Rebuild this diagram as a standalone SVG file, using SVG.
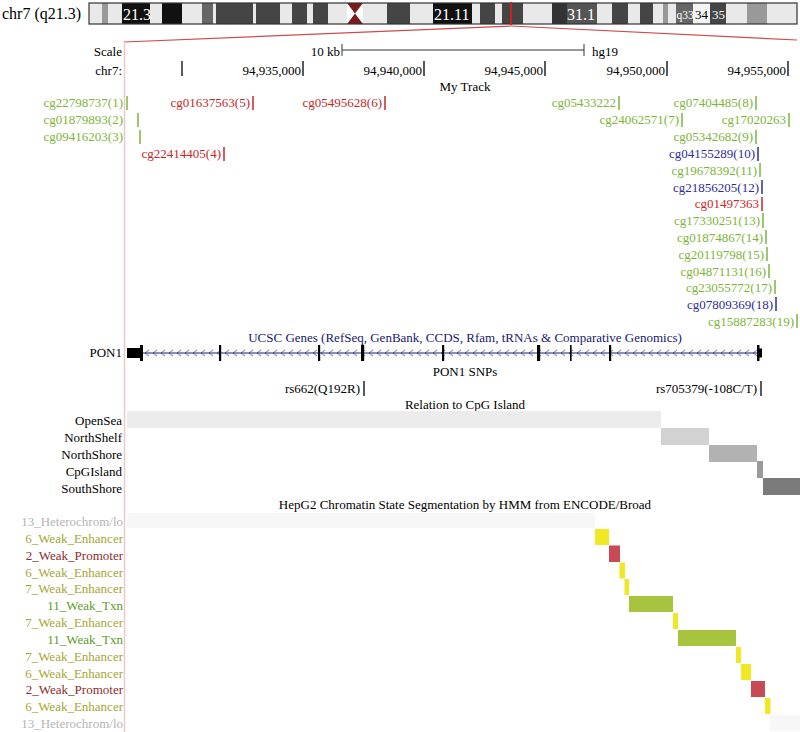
<svg xmlns="http://www.w3.org/2000/svg" width="800" height="732" viewBox="0 0 800 732">
<style>
text{font-family:"Liberation Serif","Times New Roman",serif;font-size:13px;fill:#000}
.e{text-anchor:end}
.m{text-anchor:middle}
.g{fill:#7db53a}
.r{fill:#c62828}
.b{fill:#2e2e96}
.tg{stroke:#7db53a;stroke-width:1.5}
.tr{stroke:#c62828;stroke-width:1.5}
.tb{stroke:#2e2e96;stroke-width:1.5}
.bl{fill:#e9e9e9}
.dk{fill:#454545}
.band{font-size:16px;fill:#fff}
.he{fill:#b4b4b4}
.we{fill:#a6a633}
.wp{fill:#8c2c2c}
.wt{fill:#5f9a2c}
.ye{fill:#f0e822}
.rd{fill:#c74a54}
.gn{fill:#a8c43e}
</style>
<defs>
<pattern id="chev" x="143" y="349" width="8" height="8" patternUnits="userSpaceOnUse">
<path d="M6,1 L2,4 L6,7" fill="none" stroke="#7070c4" stroke-width="1"/>
</pattern>
</defs>
<rect width="800" height="732" fill="#fff"/>

<g id="ideogram">
<text x="2" y="19" style="font-size:16px">chr7 (q21.3)</text>
<rect x="89" y="3" width="708" height="21" class="bl"/>
<rect x="102" y="3" width="6" height="21" fill="#999"/>
<rect x="122" y="3" width="28" height="21" fill="#111"/>
<rect x="162" y="3" width="20" height="21" fill="#111"/>
<rect x="202" y="3" width="11" height="21" fill="#666"/>
<rect x="216" y="3" width="37" height="21" class="dk"/>
<rect x="256" y="3" width="24" height="21" class="dk"/>
<rect x="292" y="3" width="15" height="21" class="dk"/>
<rect x="313" y="3" width="15" height="21" class="dk"/>
<rect x="347" y="3" width="16" height="21" fill="#fff"/>
<polygon points="347,3 363,3 355,13.5 363,24 347,24 355,13.5" fill="#7a1c1c"/>
<rect x="387" y="3" width="23" height="21" class="dk"/>
<rect x="433" y="3" width="39" height="21" fill="#111"/>
<rect x="480" y="3" width="15" height="21" class="dk"/>
<rect x="502" y="3" width="21" height="21" class="dk"/>
<rect x="552" y="3" width="15" height="21" fill="#333"/>
<rect x="567" y="3" width="30" height="21" fill="#555"/>
<rect x="612" y="3" width="16" height="21" class="dk"/>
<rect x="640" y="3" width="13" height="21" class="dk"/>
<rect x="663" y="3" width="5" height="21" fill="#999"/>
<rect x="676" y="3" width="17" height="21" fill="#666"/>
<rect x="693" y="3" width="17" height="21" fill="#f4f4f4"/>
<rect x="710" y="3" width="16" height="21" class="dk"/>
<rect x="747" y="3" width="20" height="21" fill="#999"/>
<rect x="89" y="3" width="708" height="21" fill="none" stroke="#333" stroke-width="1.2"/>
<text x="123" y="20" class="band">21.3</text>
<text x="434" y="20" class="band">21.11</text>
<text x="567" y="20" class="band">31.1</text>
<text x="676.5" y="19" class="band" style="font-size:11.5px">q33</text>
<text x="695" y="19" style="font-size:13px">34</text>
<text x="712" y="19" class="band" style="font-size:13px">35</text>
<line x1="511" y1="2" x2="511" y2="25" stroke="#cc1f1f" stroke-width="2"/>
<line x1="511" y1="26" x2="124" y2="42" stroke="#d04a4a" stroke-width="1.2"/>
<line x1="511" y1="26" x2="797" y2="40" stroke="#d04a4a" stroke-width="1.2"/>
</g>

<line x1="124.5" y1="42" x2="124.5" y2="732" stroke="#f2c6c6" stroke-width="1.5"/>

<g id="scale">
<text x="122" y="56" class="e">Scale</text>
<text x="340" y="56" class="e">10 kb</text>
<line x1="342" y1="50" x2="584" y2="50" stroke="#333" stroke-width="1"/>
<line x1="342" y1="44" x2="342" y2="56" stroke="#333" stroke-width="1"/>
<line x1="584" y1="44" x2="584" y2="56" stroke="#333" stroke-width="1"/>
<text x="592" y="56">hg19</text>
</g>

<g id="ruler" stroke="#000" stroke-width="1.3">
<text x="122" y="75" class="e" stroke="none">chr7:</text>
<line x1="182" y1="61" x2="182" y2="76"/>
<line x1="303" y1="61" x2="303" y2="76"/>
<line x1="424" y1="61" x2="424" y2="76"/>
<line x1="545" y1="61" x2="545" y2="76"/>
<line x1="667" y1="61" x2="667" y2="76"/>
<line x1="788" y1="61" x2="788" y2="76"/>
<text x="301" y="75" class="e" stroke="none">94,935,000</text>
<text x="422" y="75" class="e" stroke="none">94,940,000</text>
<text x="543" y="75" class="e" stroke="none">94,945,000</text>
<text x="665" y="75" class="e" stroke="none">94,950,000</text>
<text x="786" y="75" class="e" stroke="none">94,955,000</text>
</g>

<g id="my-track">
<text x="465" y="91" class="m">My Track</text>
<text x="123" y="107" class="e g">cg22798737(1)</text><line x1="127" y1="96" x2="127" y2="110" class="tg"/>
<text x="250" y="107" class="e r">cg01637563(5)</text><line x1="253" y1="96" x2="253" y2="110" class="tr"/>
<text x="382" y="107" class="e r">cg05495628(6)</text><line x1="385" y1="96" x2="385" y2="110" class="tr"/>
<text x="616" y="107" class="e g">cg05433222</text><line x1="619" y1="96" x2="619" y2="110" class="tg"/>
<text x="753" y="107" class="e g">cg07404485(8)</text><line x1="756" y1="96" x2="756" y2="110" class="tg"/>

<text x="123" y="124" class="e g">cg01879893(2)</text><line x1="138" y1="113" x2="138" y2="127" class="tg"/>
<text x="679" y="124" class="e g">cg24062571(7)</text><line x1="682" y1="113" x2="682" y2="127" class="tg"/>
<text x="786" y="124" class="e g">cg17020263</text><line x1="789" y1="113" x2="789" y2="127" class="tg"/>

<text x="123" y="141" class="e g">cg09416203(3)</text><line x1="140" y1="130" x2="140" y2="144" class="tg"/>
<text x="753" y="141" class="e g">cg05342682(9)</text><line x1="756" y1="130" x2="756" y2="144" class="tg"/>

<text x="221" y="158" class="e r">cg22414405(4)</text><line x1="224" y1="147" x2="224" y2="161" class="tr"/>
<text x="755" y="158" class="e b">cg04155289(10)</text><line x1="758" y1="147" x2="758" y2="161" class="tb"/>

<text x="757" y="174.5" class="e g">cg19678392(11)</text><line x1="760" y1="163" x2="760" y2="177" class="tg"/>
<text x="759" y="191.5" class="e b">cg21856205(12)</text><line x1="762" y1="180" x2="762" y2="194" class="tb"/>
<text x="759" y="208" class="e r">cg01497363</text><line x1="762" y1="197" x2="762" y2="211" class="tr"/>
<text x="760" y="225" class="e g">cg17330251(13)</text><line x1="763" y1="213" x2="763" y2="228" class="tg"/>
<text x="763" y="241.5" class="e g">cg01874867(14)</text><line x1="766" y1="230" x2="766" y2="244" class="tg"/>
<text x="764" y="258.5" class="e g">cg20119798(15)</text><line x1="767" y1="247" x2="767" y2="261" class="tg"/>
<text x="766" y="275.5" class="e g">cg04871131(16)</text><line x1="769" y1="264" x2="769" y2="278" class="tg"/>
<text x="772" y="291.5" class="e g">cg23055772(17)</text><line x1="775" y1="280" x2="775" y2="294" class="tg"/>
<text x="773" y="308.5" class="e b">cg07809369(18)</text><line x1="776" y1="297" x2="776" y2="311" class="tb"/>
<text x="794" y="325.5" class="e g">cg15887283(19)</text><line x1="797" y1="314" x2="797" y2="328" class="tg"/>
</g>

<g id="ucsc-genes">
<text x="465" y="342" class="m" style="fill:#18186e">UCSC Genes (RefSeq, GenBank, CCDS, Rfam, tRNAs &amp; Comparative Genomics)</text>
<text x="122" y="357" class="e">PON1</text>
<rect x="143" y="349" width="615" height="8" fill="url(#chev)"/>
<line x1="127" y1="353" x2="760" y2="353" stroke="#22226a" stroke-width="1.2"/>
<rect x="127" y="348" width="14" height="10" fill="#000"/>
<rect x="140" y="345" width="3" height="16" fill="#000"/>
<rect x="219" y="345" width="2.2" height="16" fill="#000"/>
<rect x="318" y="345" width="2.2" height="16" fill="#000"/>
<rect x="361" y="345" width="3.2" height="16" fill="#000"/>
<rect x="442" y="345" width="2.2" height="16" fill="#000"/>
<rect x="537" y="345" width="3.2" height="16" fill="#000"/>
<rect x="570" y="345" width="1.6" height="16" fill="#000"/>
<rect x="609" y="345" width="2.2" height="16" fill="#000"/>
<rect x="757" y="345" width="2.5" height="16" fill="#000"/>
<rect x="757" y="348.5" width="5" height="9" fill="#000"/>
</g>

<g id="pon1-snps">
<text x="465" y="376" class="m">PON1 SNPs</text>
<text x="360" y="393" class="e">rs662(Q192R)</text>
<line x1="364" y1="381" x2="364" y2="396" stroke="#000" stroke-width="1.3"/>
<text x="757" y="393" class="e">rs705379(-108C/T)</text>
<line x1="761" y1="381" x2="761" y2="396" stroke="#000" stroke-width="1.3"/>
</g>

<g id="cpg-relation">
<text x="465" y="409" class="m">Relation to CpG Island</text>
<text x="122" y="424.5" class="e">OpenSea</text>
<text x="122" y="441.5" class="e">NorthShelf</text>
<text x="122" y="458.5" class="e">NorthShore</text>
<text x="122" y="475.5" class="e">CpGIsland</text>
<text x="122" y="492.5" class="e">SouthShore</text>
<rect x="127" y="411" width="534" height="17" fill="#ececec"/>
<rect x="661" y="428" width="48" height="17" fill="#d2d2d2"/>
<rect x="709" y="445" width="48" height="17" fill="#b2b2b2"/>
<rect x="757" y="461" width="6" height="17" fill="#9a9a9a"/>
<rect x="763" y="478" width="37" height="17" fill="#7b7b7b"/>
</g>

<g id="hepg2-chromatin">
<text x="465" y="509" class="m">HepG2 Chromatin State Segmentation by HMM from ENCODE/Broad</text>
<text x="123" y="525.5" class="e he">13_Heterochrom/lo</text>
<text x="123" y="542.5" class="e we">6_Weak_Enhancer</text>
<text x="123" y="559.5" class="e wp">2_Weak_Promoter</text>
<text x="123" y="576.5" class="e we">6_Weak_Enhancer</text>
<text x="123" y="592.5" class="e we">7_Weak_Enhancer</text>
<text x="123" y="609.5" class="e wt">11_Weak_Txn</text>
<text x="123" y="626.5" class="e we">7_Weak_Enhancer</text>
<text x="123" y="643.5" class="e wt">11_Weak_Txn</text>
<text x="123" y="660.5" class="e we">7_Weak_Enhancer</text>
<text x="123" y="677.5" class="e we">6_Weak_Enhancer</text>
<text x="123" y="693.5" class="e wp">2_Weak_Promoter</text>
<text x="123" y="710.5" class="e we">6_Weak_Enhancer</text>
<text x="123" y="727.5" class="e he">13_Heterochrom/lo</text>
<rect x="127" y="513" width="468" height="15" fill="#f7f7f7"/>
<rect x="595" y="529" width="14" height="16" class="ye"/>
<rect x="609" y="545.5" width="11" height="16.5" class="rd"/>
<rect x="619.5" y="562.5" width="5.5" height="16" class="ye"/>
<rect x="624.5" y="579" width="4.5" height="16" class="ye"/>
<rect x="629" y="596" width="44" height="16" class="gn"/>
<rect x="673" y="613" width="5" height="16" class="ye"/>
<rect x="678" y="630" width="58" height="16" class="gn"/>
<rect x="736" y="647" width="5" height="16" class="ye"/>
<rect x="741" y="664" width="10" height="16" class="ye"/>
<rect x="751" y="681" width="14" height="16" class="rd"/>
<rect x="765" y="698" width="5.5" height="16" class="ye"/>
<rect x="770" y="715" width="30" height="16" fill="#f7f7f7"/>
</g>
</svg>
